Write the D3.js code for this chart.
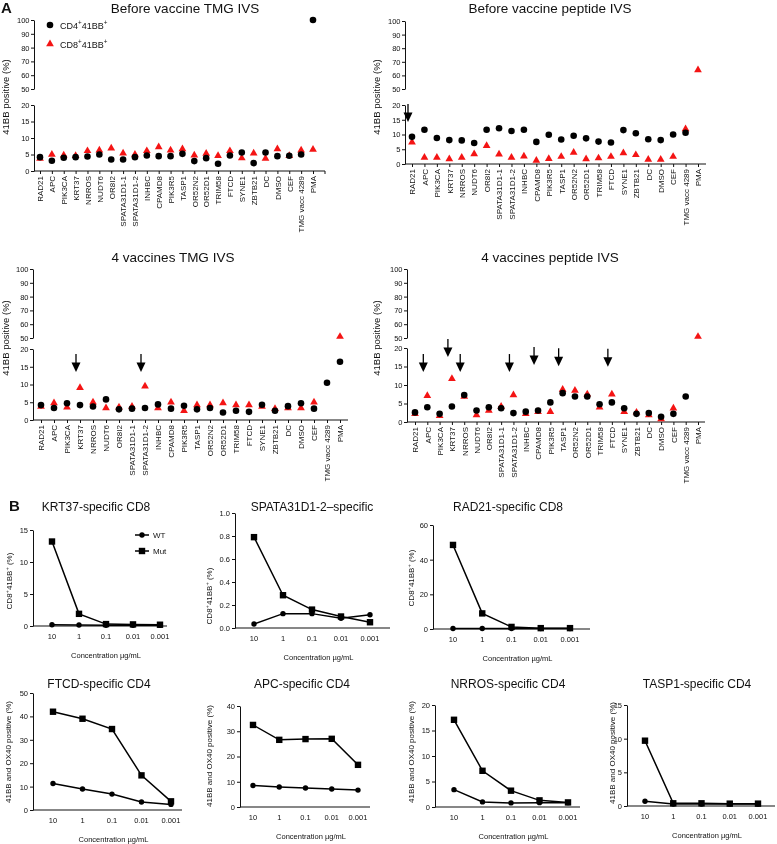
<!DOCTYPE html>
<html><head><meta charset="utf-8">
<script src="https://cdn.jsdelivr.net/npm/d3@7"></script>
<style>
body{margin:0;background:#fff}
svg{will-change:transform}
svg text{font-family:"Liberation Sans",Arial,Helvetica,sans-serif;fill:#111}
</style>
</head><body>
<svg id="c" width="777" height="844"></svg>
<script>
// ---------------- DATA ----------------
const categories = ["RAD21","APC","PIK3CA","KRT37","NRROS","NUDT6","OR8I2","SPATA31D1-1","SPATA31D1-2","INHBC","CPAMD8","PIK3R5","TASP1","OR52N2","OR52D1","TRIM58","FTCD","SYNE1","ZBTB21","DC","DMSO","CEF","TMG vacc 4289","PMA"];
const lowerTicks = [0,5,10,15,20];
const upperTicks = [50,60,70,80,90,100];

const beforeTMG_CD4 = [4.2,3.1,4.0,4.2,4.4,5.0,3.5,3.5,4.2,4.7,4.5,4.5,5.2,3.0,3.9,2.2,4.7,5.6,2.4,5.6,4.5,4.6,5.0,100];
const beforeTMG_CD8 = [3.8,5.0,4.8,4.6,6.1,6.3,6.9,5.4,5.0,6.1,7.3,6.3,6.7,4.8,5.3,4.6,6.1,3.9,5.4,3.8,6.7,4.6,6.3,6.5];

const beforePep_CD4 = [9.2,11.6,8.8,8.1,8.0,7.1,11.6,12.1,11.2,11.6,7.5,9.9,8.3,9.6,8.7,7.6,7.3,11.5,10.4,8.4,8.1,10.0,10.6,null];
const beforePep_CD8 = [7.4,2.2,2.2,1.7,2.2,3.4,6.2,3.3,2.2,2.6,1.2,1.8,2.5,3.9,1.7,2.0,2.5,3.7,3.1,1.5,1.5,2.5,11.9,64];

const vacTMG_CD4 = [4.2,3.4,4.7,4.2,3.8,5.8,3.0,3.2,3.4,4.4,3.2,4.0,3.0,3.4,2.1,2.6,2.3,4.3,2.6,3.9,4.7,3.2,10.5,16.4];
const vacTMG_CD8 = [3.8,4.8,3.6,9.1,5.0,3.4,3.6,3.8,9.5,3.4,5.0,2.6,4.2,4.2,4.8,4.2,4.2,3.8,3.2,3.4,3.4,5.0,null,51];

const vacPep_CD4 = [2.6,4.0,2.2,4.2,7.3,3.1,4.0,3.7,2.4,2.8,3.1,5.3,7.8,6.9,6.9,4.8,5.3,3.7,2.2,2.4,1.4,2.2,6.9,null];
const vacPep_CD8 = [2.2,7.1,1.7,11.7,6.9,1.9,3.1,4.2,7.3,2.2,2.8,2.8,8.8,8.5,7.5,4.0,7.5,2.8,2.6,1.9,0.8,3.7,null,51];

// arrow annotations: category and arrow-tip value
const arrowsBeforePep = [{cat:"RAD21",tip:14.2}];
const arrowsVacTMG = [{cat:"KRT37",tip:13.5},{cat:"SPATA31D1-2",tip:13.5}];
const arrowsVacPep = [{cat:"APC",tip:13.5},{cat:"KRT37",tip:17.6},{cat:"NRROS",tip:13.5},{cat:"SPATA31D1-2",tip:13.5},{cat:"CPAMD8",tip:15.4},{cat:"TASP1",tip:15.1},{cat:"FTCD",tip:14.9}];

const doses = ["10","1","0.1","0.01","0.001"];
const krt37_WT = [0.2,0.15,0.1,0.1,0.1];
const krt37_Mut = [13.2,1.9,0.3,0.25,0.2];
const spata_WT = [0.035,0.125,0.125,0.085,0.115];
const spata_Mut = [0.79,0.285,0.16,0.10,0.05];
const rad21_WT = [0.3,0.3,0.3,0.3,0.3];
const rad21_Mut = [48.5,9.0,1.2,0.5,0.5];
const ftcd_WT = [11.3,9.0,6.8,3.4,2.4];
const ftcd_Mut = [42,39,34.6,14.8,3.7];
const apc_WT = [8.5,7.9,7.5,7.1,6.7];
const apc_Mut = [32.5,26.6,26.9,27.0,16.7];
const nrros_WT = [3.4,1.0,0.8,0.85,0.85];
const nrros_Mut = [17.1,7.1,3.2,1.3,0.9];
const tasp1_WT = [0.7,0.3,0.3,0.3,0.3];
const tasp1_Mut = [9.7,0.4,0.4,0.35,0.35];

// ---------------- DRAW ----------------
const svg = d3.select("#c");
svg.append("rect").attr("width",777).attr("height",844).attr("fill","#fff");
const RED = "#f41414";

function label(g, x, y, parts, size, rotate, anchor) {
  const t = g.append("text").attr("font-size", size).attr("text-anchor", anchor || "middle");
  if (rotate) t.attr("transform", `translate(${x},${y}) rotate(-90)`).attr("dy","0.35em");
  else t.attr("x", x).attr("y", y);
  let shifted = false;
  parts.forEach(p => {
    const sup = Array.isArray(p);
    const s = sup ? p[0] : p;
    const ts = t.append("tspan").text(s);
    if (sup) { ts.attr("font-size", size*0.7).attr("dy", -size*0.38); shifted = true; }
    else if (shifted) { ts.attr("dy", size*0.38); shifted = false; }
  });
  return t;
}

function styleAxis(ax, fs) {
  ax.attr("font-family", null).attr("font-size", fs);
  ax.selectAll("text").attr("fill", "#111");
  ax.selectAll("line,path").attr("stroke", "#111").attr("stroke-width", 1);
}

function catPanel(p) {
  const g = svg.append("g");
  const yL = d3.scaleLinear().domain([0,20]).range([p.yL0, p.yL20]);
  const yU = d3.scaleLinear().domain([50,100]).range([p.yU50, p.yU100]);
  const y = v => v <= 20 ? yL(v) : yU(v);
  const x = d3.scalePoint().domain(categories).range([p.xFirst, p.xLast]);

  const a1 = g.append("g").attr("transform", `translate(${p.x0},0)`)
    .call(d3.axisLeft(yL).tickValues(lowerTicks).tickSize(3).tickSizeOuter(0).tickPadding(1.5));
  styleAxis(a1, 7.5);
  const a2 = g.append("g").attr("transform", `translate(${p.x0},0)`)
    .call(d3.axisLeft(yU).tickValues(upperTicks).tickSize(3).tickSizeOuter(0).tickPadding(1.5));
  styleAxis(a2, 7.5);

  const ax = g.append("g").attr("transform", `translate(0,${p.yL0})`)
    .call(d3.axisBottom(x).tickSize(3).tickSizeOuter(0));
  ax.select(".domain").remove();
  styleAxis(ax, 8);
  ax.selectAll(".tick text").attr("transform","rotate(-90)").attr("text-anchor","end")
    .attr("x",-5).attr("y",0).attr("dy","0.35em");
  g.append("line").attr("x1", p.x0).attr("x2", p.xEnd).attr("y1", p.yL0).attr("y2", p.yL0)
    .attr("stroke","#111").attr("stroke-width",1);
  if (p.endTick) g.append("line").attr("x1", p.xEnd).attr("x2", p.xEnd).attr("y1", p.yL0).attr("y2", p.yL0+3)
    .attr("stroke","#111");

  label(g, p.tx, p.ty, [p.title], 13.5, false);
  label(g, p.ylabX, p.ylabY, ["41BB positive (%)"], 9.5, true);

  const tri = d3.symbol().type(d3.symbolTriangle).size(26);
  categories.forEach((c,i) => {
    const v = p.cd8[i];
    if (v != null) g.append("path").attr("d", tri()).attr("fill", RED)
      .attr("transform", `translate(${x(c)},${y(v)})`);
  });
  categories.forEach((c,i) => {
    const v = p.cd4[i];
    if (v != null) g.append("circle").attr("cx", x(c)).attr("cy", y(v)).attr("r", 3.3).attr("fill","#000");
  });

  p.arrows.forEach(a => {
    const ax0 = x(a.cat) - 4, ty = yL(a.tip);
    g.append("line").attr("x1", ax0).attr("x2", ax0).attr("y1", ty-18).attr("y2", ty-8)
      .attr("stroke","#000").attr("stroke-width",1.3);
    g.append("path").attr("d", `M${ax0-4.5},${ty-9.5}L${ax0+4.5},${ty-9.5}L${ax0},${ty}Z`).attr("fill","#000");
  });
  return {g, x, y};
}

catPanel({title:"Before vaccine TMG IVS", tx:185, ty:12.5, x0:34, xFirst:40, xLast:313, xEnd:325, endTick:true,
  yL0:171, yL20:105, yU50:89, yU100:20, cd4:beforeTMG_CD4, cd8:beforeTMG_CD8, arrows:[], ylabX:6, ylabY:97});
catPanel({title:"Before vaccine peptide IVS", tx:550, ty:12.5, x0:405, xFirst:412, xLast:698, xEnd:706,
  yL0:164, yL20:105, yU50:89, yU100:21, cd4:beforePep_CD4, cd8:beforePep_CD8, arrows:arrowsBeforePep, ylabX:377, ylabY:97});
catPanel({title:"4 vaccines TMG IVS", tx:173, ty:262, x0:33, xFirst:41, xLast:340, xEnd:348,
  yL0:420, yL20:349, yU50:338, yU100:269, cd4:vacTMG_CD4, cd8:vacTMG_CD8, arrows:arrowsVacTMG, ylabX:6, ylabY:338});
catPanel({title:"4 vaccines peptide IVS", tx:550, ty:262, x0:407, xFirst:415, xLast:698, xEnd:705,
  yL0:422, yL20:348, yU50:338, yU100:269, cd4:vacPep_CD4, cd8:vacPep_CD8, arrows:arrowsVacPep, ylabX:377, ylabY:338});

// panel letters
svg.append("text").attr("x",1).attr("y",12.5).attr("font-size",15).attr("font-weight","bold").text("A");
svg.append("text").attr("x",9).attr("y",511).attr("font-size",15).attr("font-weight","bold").text("B");

// legend panel A
{
  const g = svg.append("g");
  g.append("circle").attr("cx",50).attr("cy",25).attr("r",3.3).attr("fill","#000");
  label(g, 60, 28.5, ["CD4", ["+"], "41BB", ["+"]], 9, false, "start");
  g.append("path").attr("d", d3.symbol().type(d3.symbolTriangle).size(26)()).attr("fill",RED)
    .attr("transform","translate(50,44)");
  label(g, 60, 47.5, ["CD8", ["+"], "41BB", ["+"]], 9, false, "start");
}

function dosePanel(p) {
  const g = svg.append("g");
  const x = d3.scalePoint().domain(doses).range([p.xFirst, p.xLast]);
  const y = d3.scaleLinear().domain([0, p.ymax]).range([p.y0, p.yTop]);
  const ay = g.append("g").attr("transform", `translate(${p.x0},0)`)
    .call(d3.axisLeft(y).tickValues(p.ticks).tickFormat(p.fmt || d3.format("d")).tickSize(3).tickSizeOuter(0).tickPadding(2));
  styleAxis(ay, 7.5);
  g.append("line").attr("x1", p.x0).attr("x2", p.xEnd).attr("y1", p.y0).attr("y2", p.y0)
    .attr("stroke","#111").attr("stroke-width",1.2);
  doses.forEach(d => g.append("text").attr("x", x(d)).attr("y", p.y0+13).attr("font-size",7.5)
    .attr("text-anchor","middle").text(d));
  label(g, (p.x0+p.xEnd)/2 + 6, p.y0+32, ["Concentration µg/mL"], 7.5, false);
  label(g, p.tx, p.ty, [p.title], 12, false);
  label(g, p.ylabX, p.ylabY, p.ylab, 8, true);

  const line = d3.line().x((v,i) => x(doses[i])).y(v => y(v));
  [p.wt, p.mut].forEach(s => g.append("path").attr("d", line(s)).attr("fill","none")
    .attr("stroke","#000").attr("stroke-width",1.5));
  p.wt.forEach((v,i) => g.append("circle").attr("cx", x(doses[i])).attr("cy", y(v)).attr("r", 2.7).attr("fill","#000"));
  p.mut.forEach((v,i) => g.append("rect").attr("x", x(doses[i])-3.2).attr("y", y(v)-3.2)
    .attr("width",6.4).attr("height",6.4).attr("fill","#000"));
  return g;
}

const cd8lab = ["CD8", ["+"], "41BB", ["+"], " (%)"];
const cd4lab = ["41BB and OX40 positive (%)"];

dosePanel({title:"KRT37-specific CD8", tx:96, ty:511, x0:33, xEnd:167, xFirst:52, xLast:160,
  y0:626, yTop:530, ymax:15, ticks:[0,5,10,15], wt:krt37_WT, mut:krt37_Mut, ylab:cd8lab, ylabX:9, ylabY:581});
dosePanel({title:"SPATA31D1-2–specific", tx:312, ty:511, x0:235, xEnd:390, xFirst:254, xLast:370,
  y0:628, yTop:513, ymax:1.0, ticks:[0,0.2,0.4,0.6,0.8,1.0], fmt:d3.format(".1f"), wt:spata_WT, mut:spata_Mut, ylab:cd8lab, ylabX:209, ylabY:596});
dosePanel({title:"RAD21-specific CD8", tx:508, ty:511, x0:433, xEnd:590, xFirst:453, xLast:570,
  y0:629, yTop:525, ymax:60, ticks:[0,20,40,60], wt:rad21_WT, mut:rad21_Mut, ylab:cd8lab, ylabX:411, ylabY:578});

dosePanel({title:"FTCD-specific CD4", tx:99, ty:688, x0:33, xEnd:182, xFirst:53, xLast:171,
  y0:810, yTop:693, ymax:50, ticks:[0,10,20,30,40,50], wt:ftcd_WT, mut:ftcd_Mut, ylab:cd4lab, ylabX:8, ylabY:752});
dosePanel({title:"APC-specific CD4", tx:302, ty:688, x0:240, xEnd:370, xFirst:253, xLast:358,
  y0:807, yTop:706, ymax:40, ticks:[0,10,20,30,40], wt:apc_WT, mut:apc_Mut, ylab:cd4lab, ylabX:209, ylabY:756});
dosePanel({title:"NRROS-specific CD4", tx:508, ty:688, x0:435, xEnd:580, xFirst:454, xLast:568,
  y0:807, yTop:705, ymax:20, ticks:[0,5,10,15,20], wt:nrros_WT, mut:nrros_Mut, ylab:cd4lab, ylabX:411, ylabY:752});
dosePanel({title:"TASP1-specific CD4", tx:697, ty:688, x0:627, xEnd:775, xFirst:645, xLast:758,
  y0:806, yTop:705, ymax:15, ticks:[0,5,10,15], wt:tasp1_WT, mut:tasp1_Mut, ylab:cd4lab, ylabX:612, ylabY:753});

// legend panel B
{
  const g = svg.append("g");
  g.append("line").attr("x1",135).attr("x2",149).attr("y1",535).attr("y2",535).attr("stroke","#000").attr("stroke-width",1.5);
  g.append("circle").attr("cx",142).attr("cy",535).attr("r",2.7).attr("fill","#000");
  g.append("text").attr("x",153).attr("y",538).attr("font-size",8).text("WT");
  g.append("line").attr("x1",135).attr("x2",149).attr("y1",551).attr("y2",551).attr("stroke","#000").attr("stroke-width",1.5);
  g.append("rect").attr("x",138.8).attr("y",547.8).attr("width",6.4).attr("height",6.4).attr("fill","#000");
  g.append("text").attr("x",153).attr("y",554).attr("font-size",8).text("Mut");
}
</script>
</body></html>
